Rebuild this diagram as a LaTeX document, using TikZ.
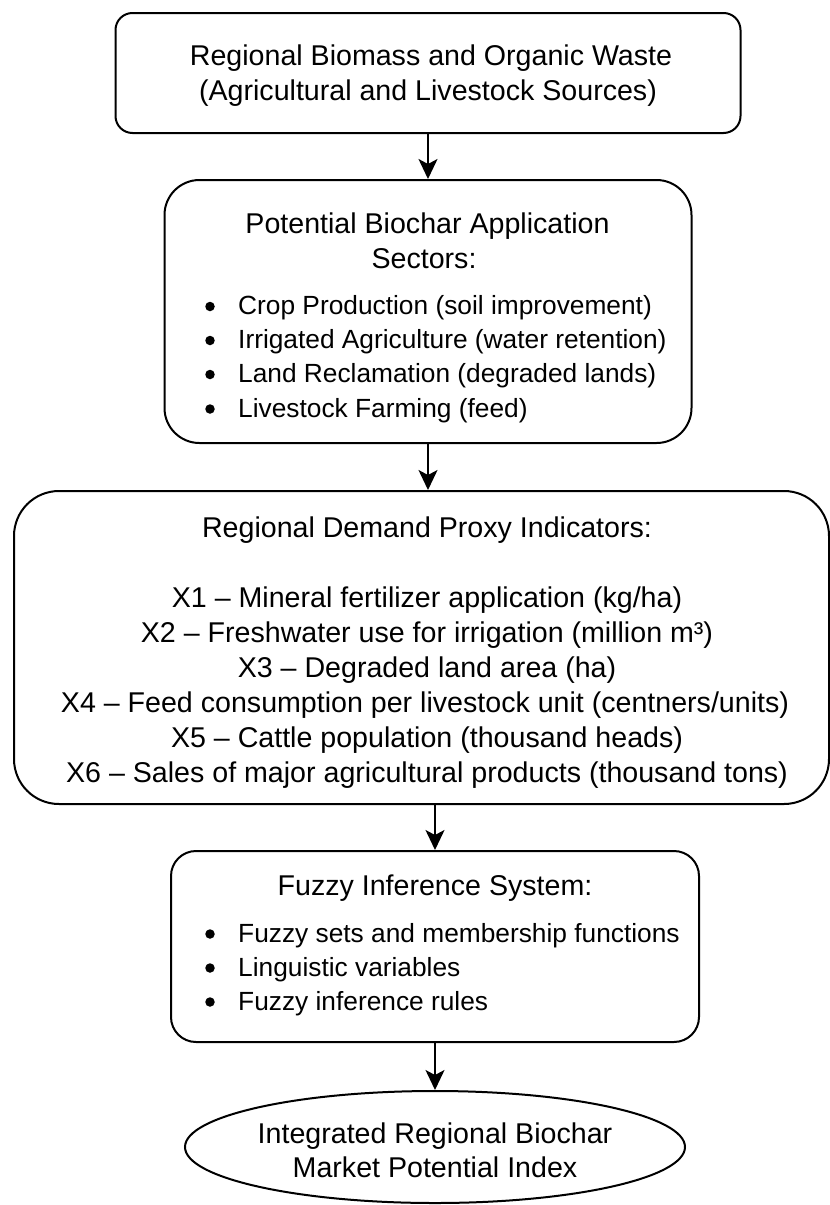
\documentclass[tikz,border=0pt]{standalone}
\usepackage{fontspec}
\setmainfont{Liberation Sans}
\usetikzlibrary{arrows.meta,shapes.geometric}
\newcommand{\tfont}{\fontsize{28.6pt}{35pt}\selectfont}
\newcommand{\bfont}{\fontsize{26.3pt}{34pt}\selectfont}
\begin{document}
\begin{tikzpicture}[x=1pt,y=-1pt,
  box/.style={draw, line width=2pt, rounded corners=#1, inner sep=0pt},
  ellbox/.style={draw, ellipse, line width=2pt, inner sep=0pt},
  txt/.style={inner sep=0pt, anchor=base, font=\tfont},
  btxt/.style={inner sep=0pt, anchor=base west, font=\bfont},
  bul/.style={circle, fill=black, inner sep=0pt, minimum size=9.5pt},
  arr/.style={line width=1.8pt, -{Stealth[length=20pt,width=19pt,inset=5pt]}}
]
\useasboundingbox (0,0) rectangle (830,1205);

% boxes
\node[box=17pt, minimum width=625pt, minimum height=120pt] (b1) at (428,73) {};
\node[box=35pt, minimum width=527pt, minimum height=263pt] (b2) at (428,311.5) {};
\node[box=45pt, minimum width=815pt, minimum height=313pt] (b3) at (421.5,647.5) {};
\node[box=25pt, minimum width=528pt, minimum height=191pt] (b4) at (435,946.5) {};
\node[ellbox, minimum width=500pt, minimum height=112pt] (ell) at (435,1147) {};

% box 1 text
\node[txt] (t1a) at (431,65) {Regional Biomass and Organic Waste};
\node[txt] (t1b) at (428,100) {(Agricultural and Livestock Sources)};

% box 2 text
\node[txt] (t2a) at (427.5,233) {Potential Biochar Application};
\node[txt] (t2b) at (424,268) {Sectors:};
\node[bul] (p21) at (210,306.5) {};
\node[btxt] (s21) at (238,314.5) {Crop Production (soil improvement)};
\node[bul] (p22) at (210,340.5) {};
\node[btxt] (s22) at (238,348.5) {Irrigated Agriculture (water retention)};
\node[bul] (p23) at (210,374.5) {};
\node[btxt] (s23) at (238,382.5) {Land Reclamation (degraded lands)};
\node[bul] (p24) at (210,409) {};
\node[btxt] (s24) at (238,417) {Livestock Farming (feed)};

% box 3 text
\node[txt] (t3) at (427,537) {Regional Demand Proxy Indicators:};
\node[txt] (x1) at (427,607) {X1 – Mineral fertilizer application (kg/ha)};
\node[txt] (x2) at (427,642) {X2 – Freshwater use for irrigation (million m³)};
\node[txt] (x3) at (427,677) {X3 – Degraded land area (ha)};
\node[txt] (x4) at (425,712) {X4 – Feed consumption per livestock unit (centners/units)};
\node[txt] (x5) at (427,747) {X5 – Cattle population (thousand heads)};
\node[txt] (x6) at (427,782) {X6 – Sales of major agricultural products (thousand tons)};

% box 4 text
\node[txt] (t4) at (435,895) {Fuzzy Inference System:};
\node[bul] (p41) at (210,934) {};
\node[btxt] (s41) at (238,942) {Fuzzy sets and membership functions};
\node[bul] (p42) at (210,968) {};
\node[btxt] (s42) at (238,976) {Linguistic variables};
\node[bul] (p43) at (210,1002) {};
\node[btxt] (s43) at (238,1010) {Fuzzy inference rules};

% ellipse text
\node[txt] (t5a) at (435,1143) {Integrated Regional Biochar};
\node[txt] (t5b) at (435,1177) {Market Potential Index};

% arrows
\draw[arr] (b1.south) -- (b1.south |- b2.north);
\draw[arr] (b2.south) -- (b2.south |- b3.north);
\draw[arr] (b4.north |- b3.south) -- (b4.north);
\draw[arr] (b4.south) -- (ell.north);
\end{tikzpicture}
\end{document}
